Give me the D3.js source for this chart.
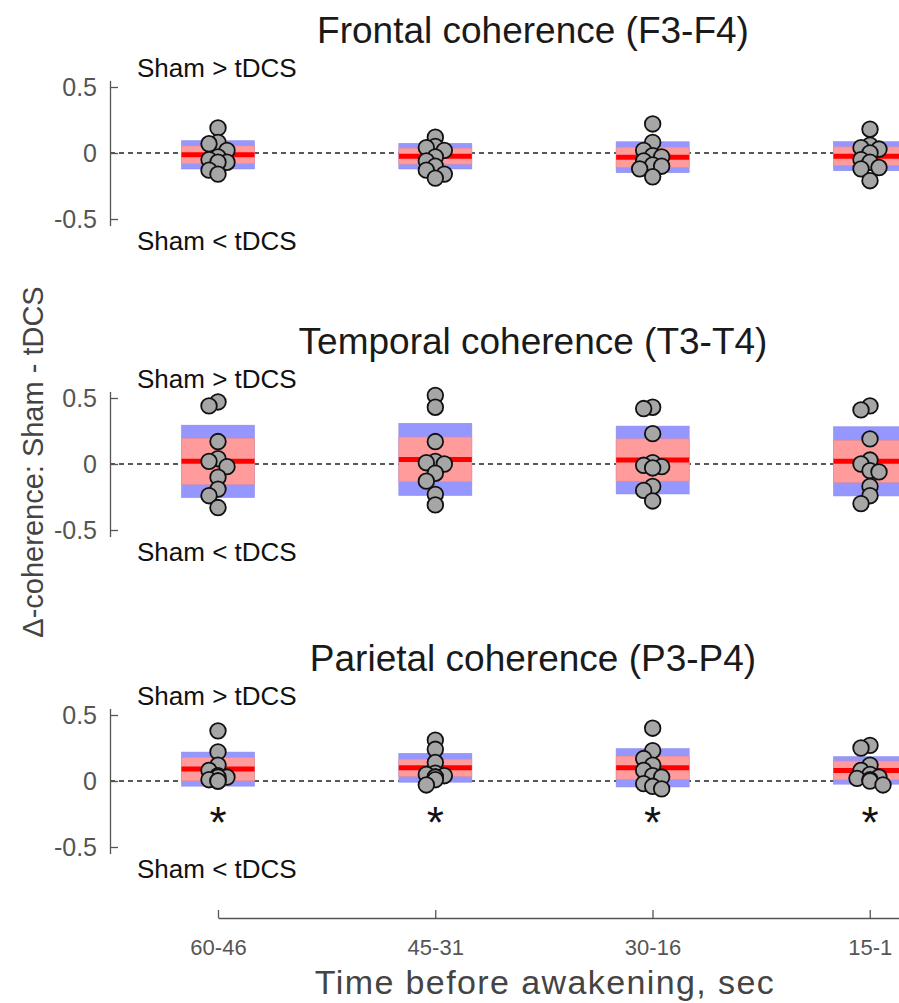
<!DOCTYPE html>
<html>
<head>
<meta charset="utf-8">
<script src="https://cdn.jsdelivr.net/npm/d3@7"></script>
<style>
  body { margin: 0; background: #fff; }
  svg { display: block; font-family: "Liberation Sans", Arial, sans-serif; }
</style>
</head>
<body>
<svg id="chart" width="899" height="1003"></svg>
<script>
// data
var categories = ["60-46", "45-31", "30-16", "15-1"];
var panelTitles = ["Frontal coherence (F3-F4)", "Temporal coherence (T3-T4)", "Parietal coherence (P3-P4)"];
var yTicks = [0.5, 0, -0.5];

var frontalPoints = [
  [0.19, 0.08, 0.07, 0.02, -0.03, -0.05, -0.07, -0.07, -0.13, -0.16],
  [0.12, 0.05, 0.04, 0.02, -0.03, -0.06, -0.10, -0.13, -0.16, -0.19],
  [0.22, 0.08, 0.02, -0.02, -0.03, -0.06, -0.09, -0.10, -0.12, -0.18],
  [0.18, 0.06, 0.04, 0.03, 0.00, -0.05, -0.07, -0.11, -0.12, -0.21]
];
var temporalPoints = [
  [0.47, 0.44, 0.17, 0.04, 0.02, -0.02, -0.10, -0.19, -0.24, -0.33],
  [0.52, 0.43, 0.17, 0.02, 0.01, 0.00, -0.07, -0.13, -0.23, -0.31],
  [0.43, 0.42, 0.23, 0.01, -0.01, -0.02, -0.03, -0.17, -0.20, -0.28],
  [0.44, 0.41, 0.19, 0.03, 0.00, -0.05, -0.06, -0.17, -0.24, -0.30]
];
var parietalPoints = [
  [0.38, 0.22, 0.12, 0.08, 0.04, 0.03, 0.03, 0.01, 0.00, 0.00],
  [0.31, 0.24, 0.14, 0.06, 0.05, 0.04, 0.03, 0.03, 0.01, -0.03],
  [0.40, 0.23, 0.17, 0.12, 0.08, 0.04, 0.03, -0.02, -0.04, -0.06],
  [0.27, 0.25, 0.12, 0.08, 0.05, 0.03, 0.02, 0.01, 0.00, -0.03]
];

var frontalMean = [-0.014, -0.024, -0.032, -0.024];
var frontalSD   = [0.107, 0.097, 0.117, 0.110];
var frontalCI   = [0.067, 0.060, 0.076, 0.070];
var temporalMean = [0.020, 0.035, 0.030, 0.020];
var temporalSD   = [0.274, 0.273, 0.257, 0.262];
var temporalCI   = [0.174, 0.169, 0.160, 0.159];
var parietalMean = [0.090, 0.100, 0.100, 0.080];
var parietalSD   = [0.129, 0.109, 0.145, 0.104];
var parietalCI   = [0.088, 0.065, 0.088, 0.071];

var frontalStars  = [false, false, false, false];
var temporalStars = [false, false, false, false];
var parietalStars = [true, true, true, true];

var panels = [
  { title: panelTitles[0], points: frontalPoints, mean: frontalMean, sd: frontalSD, ci: frontalCI, stars: frontalStars, top: 87 },
  { title: panelTitles[1], points: temporalPoints, mean: temporalMean, sd: temporalSD, ci: temporalCI, stars: temporalStars, top: 398 },
  { title: panelTitles[2], points: parietalPoints, mean: parietalMean, sd: parietalSD, ci: parietalCI, stars: parietalStars, top: 715 }
];

var svg = d3.select("#chart");
var axisX = 110, boxW = 73, r = 7.8;
var tickColor = "#555";

var x = d3.scaleLinear().domain([1, 4]).range([218, 870]);

// simple deterministic dodge so the dots don't all sit on one line
function dodge(vals, y) {
  var placed = [];
  var order = vals.map(function(v, i) { return i; })
    .sort(function(a, b) { return vals[b] - vals[a]; });
  var offs = [0, -9, 9, -5, 5, -13, 13];
  order.forEach(function(i) {
    var py = y(vals[i]), best = 0;
    for (var k = 0; k < offs.length; k++) {
      var ok = placed.every(function(p) {
        return Math.hypot(p.dx - offs[k], p.py - py) >= 8;
      });
      if (ok) { best = offs[k]; break; }
    }
    placed.push({ i: i, dx: best, py: py, v: vals[i] });
  });
  return placed;
}

panels.forEach(function(p) {
  var y = d3.scaleLinear().domain([-0.55, 0.55])
    .range([p.top + 132 + 6.6, p.top - 6.6]);

  var g = svg.append("g");

  g.append("text")
    .attr("x", 533).attr("y", p.top - 44)
    .attr("text-anchor", "middle")
    .attr("font-size", 37)
    .attr("fill", "#1a1a1a")
    .text(p.title);

  // zero line
  g.append("line")
    .attr("x1", axisX).attr("x2", 899)
    .attr("y1", y(0)).attr("y2", y(0))
    .attr("stroke", "#222").attr("stroke-width", 1.3)
    .attr("stroke-dasharray", "5,4");

  var yAxis = d3.axisLeft(y).tickValues(yTicks)
    .tickSizeInner(-8).tickSizeOuter(0).tickPadding(13)
    .tickFormat(function(d) { return String(d); });
  var ya = g.append("g").attr("transform", "translate(" + axisX + ",0)").call(yAxis);
  ya.select(".domain").attr("stroke", tickColor).attr("stroke-width", 1.3);
  ya.selectAll(".tick line").attr("stroke", tickColor).attr("stroke-width", 1.3);
  ya.selectAll(".tick text")
    .attr("font-size", 25)
    .attr("font-family", "Liberation Sans, Arial, sans-serif")
    .attr("fill", tickColor);

  g.append("text").attr("x", 137).attr("y", y(0.5) - 10)
    .attr("font-size", 26).attr("fill", "#111")
    .text("Sham > tDCS");
  g.append("text").attr("x", 137).attr("y", y(-0.5) + 31)
    .attr("font-size", 26).attr("fill", "#111")
    .text("Sham < tDCS");

  categories.forEach(function(c, j) {
    var cx = x(j + 1);
    var m = p.mean[j];
    g.append("rect")
      .attr("x", cx - boxW / 2).attr("width", boxW)
      .attr("y", y(m + p.sd[j])).attr("height", y(m - p.sd[j]) - y(m + p.sd[j]))
      .attr("fill", "rgb(150,150,255)")
      .attr("stroke", "rgb(140,140,230)").attr("stroke-width", 0.6);
    g.append("rect")
      .attr("x", cx - boxW / 2).attr("width", boxW)
      .attr("y", y(m + p.ci[j])).attr("height", y(m - p.ci[j]) - y(m + p.ci[j]))
      .attr("fill", "rgb(255,155,155)")
      .attr("stroke", "rgb(235,140,140)").attr("stroke-width", 0.6);
    g.append("line")
      .attr("x1", cx - boxW / 2).attr("x2", cx + boxW / 2)
      .attr("y1", y(m)).attr("y2", y(m))
      .attr("stroke", "rgb(255,0,0)").attr("stroke-width", 5);

    var dots = dodge(p.points[j], y);
    g.selectAll(null).data(dots).enter().append("circle")
      .attr("cx", function(d) { return cx + d.dx; })
      .attr("cy", function(d) { return d.py; })
      .attr("r", r)
      .attr("fill", "#a6a6a6")
      .attr("stroke", "#111").attr("stroke-width", 1.8);

    if (p.stars[j]) {
      g.append("text")
        .attr("x", cx).attr("y", y(0) + 57)
        .attr("text-anchor", "middle")
        .attr("font-size", 44).attr("fill", "#111")
        .text("*");
    }
  });
});

// x axis
var xAxis = d3.axisBottom(d3.scaleLinear().domain([1, 5]).range([218, 1087]))
  .tickValues([1, 2, 3, 4])
  .tickSizeInner(-8).tickSizeOuter(0).tickPadding(21)
  .tickFormat(function(d) { return categories[d - 1]; });
var xa = svg.append("g").attr("transform", "translate(0,918)").call(xAxis);
xa.select(".domain").attr("stroke", tickColor).attr("stroke-width", 1.3);
xa.selectAll(".tick line").attr("stroke", tickColor).attr("stroke-width", 1.3);
xa.selectAll(".tick text")
  .attr("font-size", 22)
  .attr("font-family", "Liberation Sans, Arial, sans-serif")
  .attr("fill", tickColor);

svg.append("text")
  .attr("x", 545).attr("y", 994)
  .attr("text-anchor", "middle")
  .attr("font-size", 34).attr("letter-spacing", 1.4)
  .attr("fill", "#444")
  .text("Time before awakening, sec");

svg.append("text")
  .attr("transform", "translate(43,462) rotate(-90)")
  .attr("text-anchor", "middle")
  .attr("font-size", 29)
  .attr("fill", "#444")
  .text("Δ-coherence: Sham - tDCS");
</script>
</body>
</html>
